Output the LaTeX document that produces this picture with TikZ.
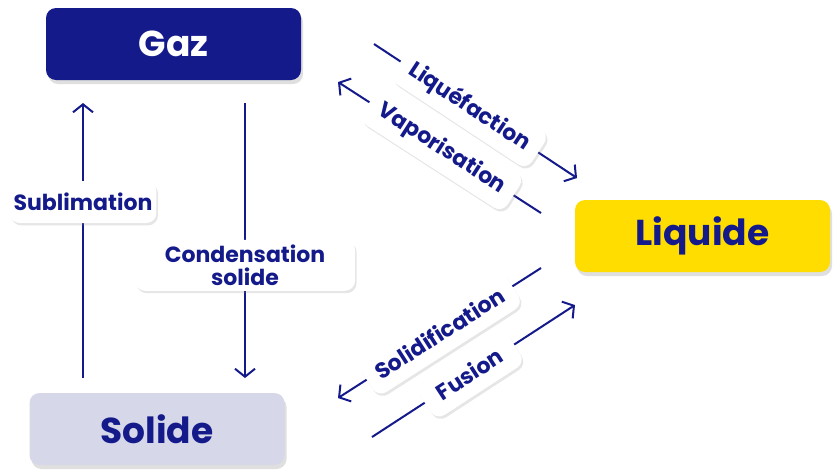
\documentclass[tikz,border=0pt]{standalone}
\usepackage{fontspec}
\setmainfont{Poppins}
\usepackage{tikz}
\usetikzlibrary{arrows.meta, shadows, calc}
\definecolor{navyblue}{RGB}{20, 26, 138}
\definecolor{solidgray}{RGB}{214, 216, 234}
\definecolor{liqyellow}{RGB}{255, 221, 0}
\tikzset{
    state/.style={rectangle, rounded corners=5pt, minimum width=127.5pt,
                  minimum height=36pt, text centered, fill=#1,
                  font=\fontsize{18}{21}\selectfont\bfseries,
                  drop shadow={opacity=0.25, shadow xshift=1pt, shadow yshift=-2pt}},
    lbl/.style={rectangle, rounded corners=5pt, fill=white, text=navyblue,
                font=\fontsize{11}{11.5}\selectfont\bfseries, align=center,
                minimum height=21pt, inner xsep=2pt,
                drop shadow={opacity=0.2, shadow xshift=0.8pt, shadow yshift=-1.2pt}},
    trans/.style={draw=navyblue, line width=1pt,
                  -{Straight Barb[length=4pt, width=10pt, line width=1pt]}},
}

\begin{document}
\begin{tikzpicture}[x=0.5pt, y=-0.5pt]
    \useasboundingbox (0,0) rectangle (833,473);

    % States
    \node[state=navyblue, text=white] (gaz) at (173.5,44) {Gaz};
    \node[state=solidgray, text=navyblue] (solide) at (157,429) {Solide};
    \node[state=liqyellow, text=navyblue] (liquide) at (702.5,236) {Liquide};

    % Free ends of the arrows
    \coordinate (sub-a) at (83,378);
    \coordinate (sub-b) at (83,103);
    \coordinate (con-a) at (245,103);
    \coordinate (con-b) at (245,378);
    \coordinate (liq-a) at (374,44);
    \coordinate (liq-b) at (577,178);
    \coordinate (vap-a) at (541,213);
    \coordinate (vap-b) at (338,82);
    \coordinate (sol-a) at (541,268);
    \coordinate (sol-b) at (338,398);
    \coordinate (fus-a) at (372,437);
    \coordinate (fus-b) at (575,305);

    % Gaz <-> Solide
    \draw[trans] (sub-a) -- (sub-b)
        node[pos=0.64, lbl, minimum width=73pt] (sublim) {Sublimation};
    \draw[trans] (con-a) -- (con-b)
        node[pos=0.59, lbl, minimum width=110pt, minimum height=25.5pt,
             inner ysep=1pt] (conds) {Condensation\\solide};

    % Gaz <-> Liquide
    \draw[trans] (liq-a) -- (liq-b)
        node[pos=0.47, sloped, lbl, inner xsep=6pt] (liquef) {Liquéfaction};
    \draw[trans] (vap-a) -- (vap-b)
        node[pos=0.49, sloped, lbl, inner xsep=6pt] (vapor) {Vaporisation};

    % Liquide <-> Solide
    \draw[trans] (sol-a) -- (sol-b)
        node[pos=0.5, sloped, lbl, inner xsep=6pt] (solidif) {Solidification};
    \draw[trans] (fus-a) -- (fus-b)
        node[pos=0.48, sloped, lbl, inner xsep=8pt] (fusion) {Fusion};
\end{tikzpicture}
\end{document}
